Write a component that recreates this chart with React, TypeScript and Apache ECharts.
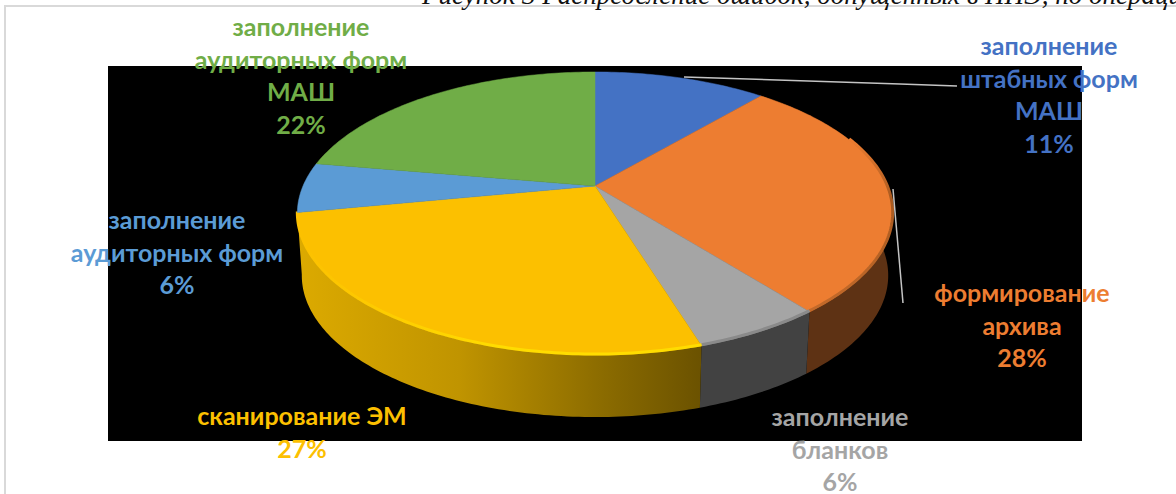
import React, { useEffect, useRef } from "react";
import * as echarts from "echarts";

const categories = [
  "заполнение штабных форм МАШ",
  "формирование архива",
  "заполнение бланков",
  "сканирование ЭМ",
  "заполнение аудиторных форм",
  "заполнение аудиторных форм МАШ",
];
const shares = [11.3, 28, 5.9, 26.8, 5.7, 22.3];
const labelLines = [
  ["заполнение", "штабных форм", "МАШ"],
  ["формирование", "архива"],
  ["заполнение", "бланков"],
  ["сканирование ЭМ"],
  ["заполнение", "аудиторных форм"],
  ["заполнение", "аудиторных форм", "МАШ"],
];
const titleText = "Рисунок 3 Распределение ошибок, допущенных в ППЭ, по операциям";

const colors = ["#4472c4", "#ed7d31", "#a5a5a5", "#fcc000", "#5b9bd5", "#70ad47"];
const labelCenters = [[1049, 45], [1022, 292], [840, 416], [302, 415], [177, 219], [301, 26]];
const LINE_H = 32.5;
const FONT = "Lato, 'Noto Sans', sans-serif";

const CX = 595, CY = 186, RX = 292, RY = 136.2, K = 0.1943, DEPTH = 62, BOTTOM_SCALE = 0.985;

function project(theta: number): [number, number] {
  const u = Math.sin(theta), v = -Math.cos(theta);
  const w = 1 - K * v;
  return [CX + (RX * u) / w, CY + (RY * v) / w];
}
function arc(a: number, b: number, dy = 0, sx = 1): number[][] {
  const pts: number[][] = [];
  const n = Math.max(4, Math.ceil((b - a) * 60));
  for (let i = 0; i <= n; i++) {
    const p = project(a + ((b - a) * i) / n);
    pts.push([CX + (p[0] - CX) * sx, p[1] + dy]);
  }
  return pts;
}
const total = shares.reduce((s, v) => s + v, 0);
const bounds = shares.map((_, i) => {
  const before = shares.slice(0, i).reduce((s, v) => s + v, 0);
  return [(before / total) * 2 * Math.PI, ((before + shares[i]) / total) * 2 * Math.PI];
});

function wallFill(i: number): any {
  if (i === 3)
    return new echarts.graphic.LinearGradient(0, 0, 1, 0, [
      { offset: 0, color: "#dcaa00" },
      { offset: 0.4, color: "#c09400" },
      { offset: 0.75, color: "#8c6c00" },
      { offset: 1, color: "#6b5200" },
    ]);
  if (i === 2) return "#424242";
  if (i === 1) return "#5e3214";
  return "#222222";
}
function rimStroke(i: number): any {
  if (i === 3)
    return new echarts.graphic.LinearGradient(1, 0, 0, 0, [
      { offset: 0, color: "#ffdc00" },
      { offset: 0.5, color: "#ffdc00" },
      { offset: 1, color: "#fcc000" },
    ]);
  if (i === 2) return "#8a8a8a";
  return new echarts.graphic.LinearGradient(0, 0, 0, 1, [
    { offset: 0, color: "#ed7d31" },
    { offset: 0.35, color: "#a85a20" },
    { offset: 1, color: "#c46a2a" },
  ]);
}
const RIM_SLICES = [1, 2, 3];
const ORANGE_RIM_START = 1.2;

export default function App() {
  const ref = useRef<HTMLDivElement>(null);
  useEffect(() => {
    const chart = echarts.init(ref.current!, undefined, { renderer: "svg" });
    const idx = shares.map((v, i) => [i, v]);
    chart.setOption({
      animation: false,
      backgroundColor: "#ffffff",
      graphic: [
        { type: "rect", z: 0, shape: { x: 5, y: 6, width: 1300, height: 600 }, style: { fill: "#fff", stroke: "#d9d9d9", lineWidth: 2 } },
        { type: "rect", z: 0, shape: { x: 108, y: 66, width: 974, height: 375 }, style: { fill: "#000" } },
        { type: "text", z: 1, x: 422, y: 8.5, style: { text: titleText, fill: "#111", font: "italic 27px 'Liberation Serif'", textVerticalAlign: "bottom" } },
        { type: "polyline", z: 9, shape: { points: [[684, 77], [900, 84], [957, 86]] }, style: { stroke: "#c4c4c4", lineWidth: 1.5, fill: "none" } },
        { type: "line", z: 9, shape: { x1: 893, y1: 189, x2: 903, y2: 303 }, style: { stroke: "#c4c4c4", lineWidth: 1.5 } },
      ],
      series: [
        {
          type: "custom", coordinateSystem: "none", z: 3, silent: true, data: idx,
          renderItem: (_: any, api: any) => {
            const i = api.value(0);
            if (!RIM_SLICES.includes(i)) return null;
            const [a, b] = bounds[i];
            const pts = [...arc(a, b), ...arc(a, b, DEPTH, BOTTOM_SCALE).reverse()];
            return { type: "polygon", shape: { points: pts }, style: { fill: wallFill(i) } };
          },
        },
        {
          type: "custom", coordinateSystem: "none", z: 4, silent: true, data: idx,
          renderItem: (_: any, api: any) => {
            const i = api.value(0);
            const [a, b] = bounds[i];
            const children: any[] = [
              { type: "polygon", shape: { points: [[CX, CY], ...arc(a, b)] }, style: { fill: colors[i], stroke: colors[i], lineWidth: 0.5 } },
            ];
            if (RIM_SLICES.includes(i)) {
              const start = i === 1 ? ORANGE_RIM_START : a;
              children.push({ type: "polyline", shape: { points: arc(start, b, -1) }, style: { stroke: rimStroke(i), lineWidth: 3, fill: "none" } });
            }
            return { type: "group", children };
          },
        },
        {
          type: "custom", coordinateSystem: "none", z: 10, silent: true, data: idx,
          renderItem: (_: any, api: any) => {
            const i = api.value(0);
            const lines = [...labelLines[i], Math.round(api.value(1)) + "%"];
            return {
              type: "group",
              children: lines.map((t, j) => ({
                type: "text",
                x: labelCenters[i][0],
                y: labelCenters[i][1] + j * LINE_H,
                style: { text: t, fill: colors[i], font: `bold 25px ${FONT}`, textAlign: "center", textVerticalAlign: "middle" },
              })),
            };
          },
        },
      ],
    });
    return () => chart.dispose();
  }, []);
  return <div ref={ref} style={{ position: "fixed", left: 0, top: 0, width: 1176, height: 494 }} />;
}
